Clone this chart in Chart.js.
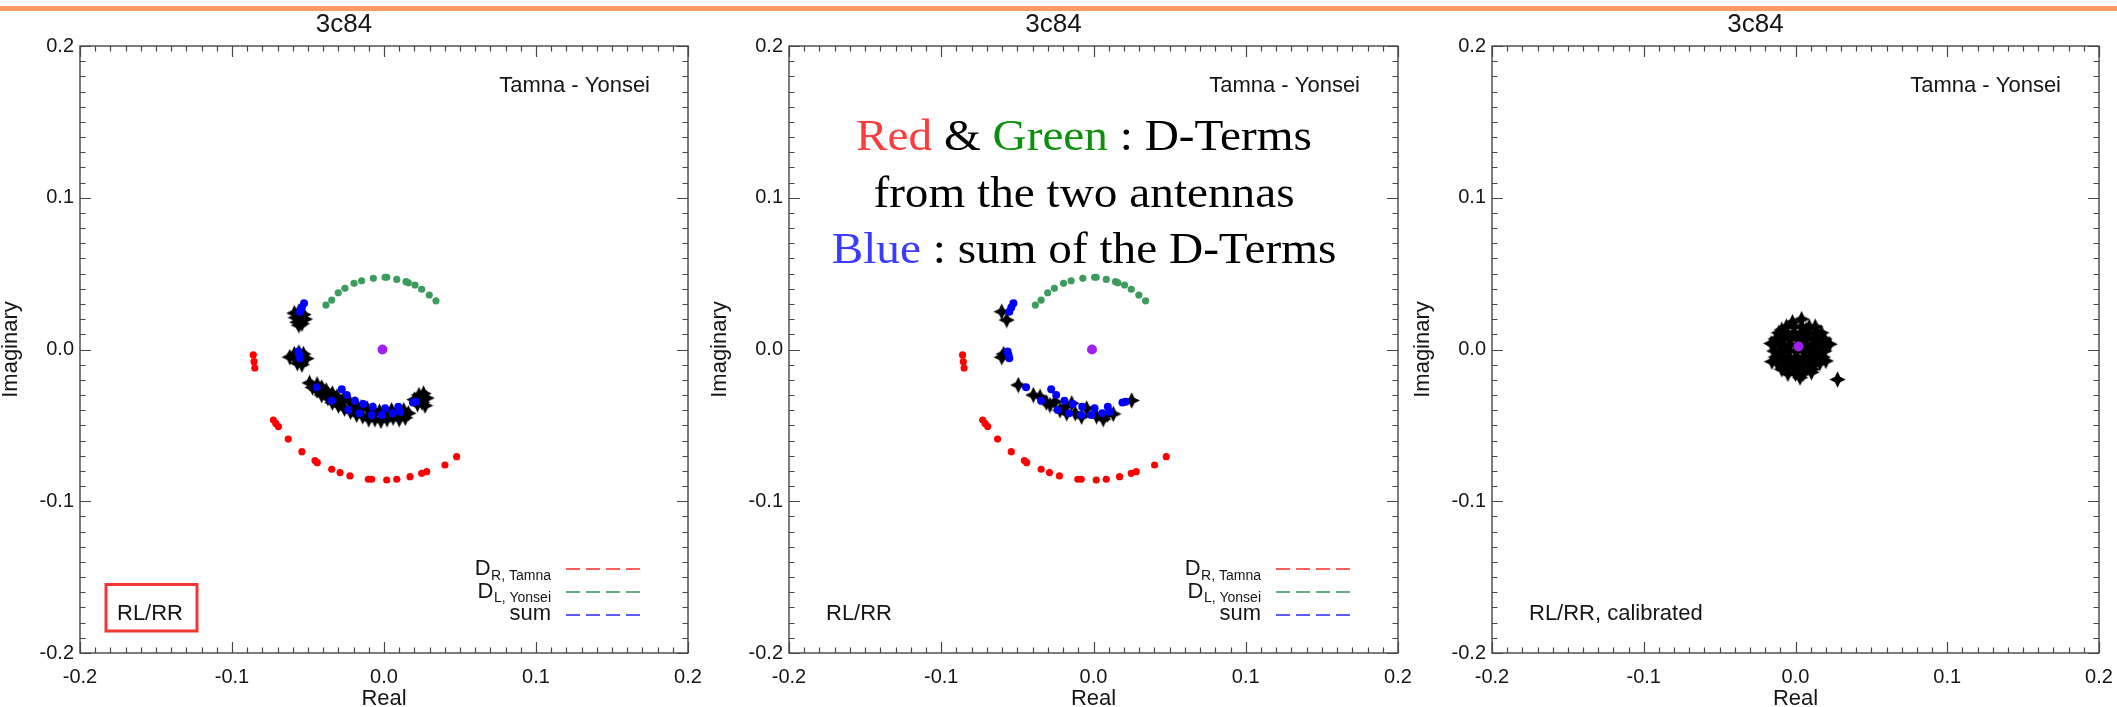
<!DOCTYPE html>
<html>
<head>
<meta charset="utf-8">
<title>3c84 D-term calibration, Tamna - Yonsei</title>
<script src="https://cdn.jsdelivr.net/npm/chart.js@4.4.1/dist/chart.umd.min.js"></script>
<style>
  html, body { margin: 0; padding: 0; background: #fff; }
  body { width: 2117px; height: 707px; overflow: hidden; position: relative; }
  #rule { position: absolute; left: 0; top: 6px; width: 2117px; height: 5px; background: #ff9a66; }
  canvas { position: absolute; top: 0; }
</style>
</head>
<body>
<div id="rule"></div>
<canvas id="p1"></canvas>
<canvas id="p2"></canvas>
<canvas id="p3"></canvas>
<script>
// ---- axis ticks (Real and Imaginary share the same range) ----
const AXIS_TICKS = [-0.2, -0.1, 0.0, 0.1, 0.2];

// ---- D-terms: [real, imaginary] ----
const D_R_TAMNA = [
  [-0.0860, -0.0036], [-0.0855, -0.0080], [-0.0850, -0.0122],
  [-0.0728, -0.0465], [-0.0712, -0.0487], [-0.0695, -0.0508],
  [-0.0630, -0.0590], [-0.0540, -0.0673],
  [-0.0454, -0.0732], [-0.0439, -0.0746],
  [-0.0344, -0.0789], [-0.0289, -0.0811], [-0.0224, -0.0833],
  [-0.0103, -0.0855], [-0.0081, -0.0855],
  [0.0018, -0.0860], [0.0084, -0.0855],
  [0.0171, -0.0838], [0.0248, -0.0816], [0.0281, -0.0805],
  [0.0401, -0.0761], [0.0478, -0.0706]
];
const D_L_YONSEI = [
  [-0.0382, 0.0293], [-0.0344, 0.0326], [-0.0301, 0.0374], [-0.0257, 0.0403],
  [-0.0197, 0.0436], [-0.0147, 0.0453], [-0.0070, 0.0469], [0.0007, 0.0476],
  [0.0018, 0.0476], [0.0084, 0.0462], [0.0145, 0.0447], [0.0160, 0.0440],
  [0.0204, 0.0425], [0.0248, 0.0397], [0.0298, 0.0359], [0.0342, 0.0321]
];
const D_SUM = [
  [-0.0526, 0.0304], [-0.0540, 0.0277], [-0.0553, 0.0249],
  [-0.0564, -0.0014], [-0.0558, -0.0036], [-0.0553, -0.0058],
  [-0.0443, -0.0249], [-0.0344, -0.0337], [-0.0278, -0.0262], [-0.0245, -0.0300],
  [-0.0235, -0.0399], [-0.0191, -0.0337], [-0.0162, -0.0420], [-0.0136, -0.0359],
  [-0.0074, -0.0377], [-0.0081, -0.0431], [-0.0015, -0.0431], [0.0007, -0.0387],
  [0.0057, -0.0420], [0.0094, -0.0377], [0.0105, -0.0410], [0.0211, -0.0344],
  [0.0190, -0.0350]
];
const ORIGIN_RAW = [[-0.001, 0.000]];
const ORIGIN_CAL = [[0.002, 0.002]];

// ---- RL/RR visibility ratios ----
const RLRR_RAW = [
  [-0.059, 0.024], [-0.056, 0.025], [-0.053, 0.023], [-0.058, 0.021], [-0.055, 0.020],
  [-0.052, 0.020], [-0.057, 0.018], [-0.054, 0.017], [-0.056, 0.016],
  [-0.062, -0.005], [-0.059, -0.003], [-0.056, -0.002], [-0.053, -0.003], [-0.051, -0.006],
  [-0.058, -0.006], [-0.055, -0.007], [-0.057, -0.009], [-0.054, -0.010],
  [-0.049, -0.022], [-0.047, -0.025], [-0.044, -0.023], [-0.044, -0.027], [-0.041, -0.025],
  [-0.041, -0.030], [-0.038, -0.027], [-0.037, -0.032], [-0.034, -0.029], [-0.034, -0.035],
  [-0.031, -0.031], [-0.030, -0.037], [-0.027, -0.033], [-0.026, -0.039], [-0.023, -0.034],
  [-0.022, -0.041], [-0.019, -0.036], [-0.018, -0.043], [-0.015, -0.038], [-0.014, -0.044],
  [-0.011, -0.039], [-0.010, -0.046], [-0.007, -0.040], [-0.006, -0.046], [-0.003, -0.041],
  [-0.002, -0.047], [0.001, -0.042], [0.002, -0.046], [0.005, -0.040], [0.006, -0.045],
  [0.009, -0.041], [0.010, -0.046], [0.013, -0.040], [0.014, -0.045], [0.016, -0.042],
  [-0.030, -0.034], [-0.020, -0.039], [-0.008, -0.043], [0.004, -0.043],
  [0.020, -0.033], [0.023, -0.030], [0.026, -0.029], [0.028, -0.032], [0.022, -0.036],
  [0.025, -0.035], [0.027, -0.037]
];
const RLRR_AVG = [
  [-0.0603, 0.0249], [-0.0570, 0.0194], [-0.0603, -0.0051], [-0.0590, -0.0030],
  [-0.0494, -0.0234], [-0.0395, -0.0300], [-0.0351, -0.0311], [-0.0310, -0.0350],
  [-0.0286, -0.0366], [-0.0253, -0.0344], [-0.0220, -0.0400], [-0.0187, -0.0377],
  [-0.0176, -0.0420], [-0.0143, -0.0355], [-0.0120, -0.0420], [-0.0078, -0.0443],
  [-0.0045, -0.0388], [0.0020, -0.0440], [0.0064, -0.0459], [0.0090, -0.0430],
  [0.0130, -0.0425], [0.0251, -0.0336]
];
const RLRR_CAL = [
  [-0.006, 0.015], [-0.001, 0.015], [0.004, 0.015], [0.009, 0.015], [0.013, 0.015],
  [-0.011, 0.011], [-0.006, 0.011], [-0.001, 0.011], [0.004, 0.011], [0.009, 0.011], [0.014, 0.011], [0.017, 0.011],
  [-0.013, 0.007], [-0.008, 0.007], [-0.003, 0.007], [0.002, 0.007], [0.007, 0.007], [0.012, 0.007], [0.016, 0.007], [0.019, 0.007],
  [-0.014, 0.003], [-0.009, 0.003], [-0.004, 0.003], [0.001, 0.003], [0.006, 0.003], [0.011, 0.003], [0.016, 0.003], [0.020, 0.003],
  [-0.014, -0.001], [-0.010, -0.001], [-0.005, -0.001], [0.000, -0.001], [0.005, -0.001], [0.010, -0.001], [0.015, -0.001], [0.019, -0.001],
  [-0.013, -0.005], [-0.009, -0.005], [-0.004, -0.005], [0.001, -0.005], [0.006, -0.005], [0.011, -0.005], [0.016, -0.005], [0.018, -0.005],
  [-0.012, -0.009], [-0.007, -0.009], [-0.002, -0.009], [0.003, -0.009], [0.008, -0.009], [0.013, -0.009], [0.016, -0.009],
  [-0.009, -0.013], [-0.004, -0.013], [0.001, -0.013], [0.006, -0.013], [0.011, -0.013],
  [-0.005, -0.016], [0.000, -0.016], [0.005, -0.016],
  [0.004, 0.020], [-0.002, 0.018], [0.0277, -0.0198], [-0.0155, -0.008], [0.003, -0.0185],
  [0.0105, -0.0150], [0.020, -0.0075], [0.0225, 0.0035], [-0.016, 0.004],
  [-0.009, 0.013], [0.007, 0.013], [-0.011, 0.005], [0.014, 0.005], [-0.007, 0.001],
  [0.008, 0.001], [-0.011, -0.003], [0.013, -0.003], [-0.005, -0.007], [0.009, -0.007],
  [-0.002, -0.011], [0.009, -0.011], [0.004, 0.009], [-0.005, 0.009]
];

// ---- drawing setup ----
const SANS = '"Liberation Sans", Arial, Helvetica, sans-serif';
const SERIF = '"Liberation Serif", "Times New Roman", serif';
const INK = '#161616';

// four-pointed filled star used for the visibility ratios
function makeStar(size) {
  const c = document.createElement('canvas');
  c.width = c.height = size;
  const g = c.getContext('2d');
  const m = size / 2, R = size / 2 - 0.3, r = size * 0.22;
  g.beginPath();
  for (let k = 0; k < 8; k++) {
    const ang = k * Math.PI / 4 - Math.PI / 2;
    const rad = k % 2 === 0 ? R : r;
    const px = m + rad * Math.cos(ang), py = m + rad * Math.sin(ang);
    if (k === 0) g.moveTo(px, py); else g.lineTo(px, py);
  }
  g.closePath();
  g.fillStyle = '#000';
  g.fill();
  return c;
}
const STAR = makeStar(17);

const pts = arr => arr.map(([x, y]) => ({ x, y }));
const fmt = v => (Math.abs(v) < 1e-9 ? 0 : v).toFixed(1);

// box with inward major/minor ticks on all four sides
const frame = {
  id: 'frame',
  afterDraw(chart) {
    const { ctx, chartArea: a, scales: { x, y } } = chart;
    ctx.save();
    ctx.strokeStyle = '#474747';
    ctx.lineWidth = 1.4;
    ctx.strokeRect(a.left, a.top, a.right - a.left, a.bottom - a.top);
    ctx.lineWidth = 1.2;
    ctx.beginPath();
    for (let i = -20; i <= 20; i++) {
      const v = i / 100;
      const len = i % 10 === 0 ? 11 : 5.5;
      const px = Math.round(x.getPixelForValue(v)) + 0.5;
      const py = Math.round(y.getPixelForValue(v)) + 0.5;
      ctx.moveTo(px, a.bottom); ctx.lineTo(px, a.bottom - len);
      ctx.moveTo(px, a.top); ctx.lineTo(px, a.top + len);
      ctx.moveTo(a.left, py); ctx.lineTo(a.left + len, py);
      ctx.moveTo(a.right, py); ctx.lineTo(a.right - len, py);
    }
    ctx.stroke();
    ctx.restore();
  }
};

// in-panel labels, legend and the explanatory caption
const notes = {
  id: 'notes',
  afterDraw(chart, args, o) {
    const { ctx, chartArea: a } = chart;
    ctx.save();
    ctx.fillStyle = INK;
    ctx.textBaseline = 'alphabetic';
    ctx.font = `22px ${SANS}`;
    ctx.textAlign = 'right';
    ctx.fillText('Tamna - Yonsei', a.right - 38, a.top + 46);
    ctx.textAlign = 'left';
    ctx.fillText(o.label, a.left + 37, a.bottom - 33);

    if (o.boxed) {
      ctx.strokeStyle = '#f23636';
      ctx.lineWidth = 3;
      ctx.strokeRect(a.left + 26, a.bottom - 68.5, 91, 46.5);
    }

    if (o.legend) {
      const rows = [
        { main: 'D', sub: 'R, Tamna', color: '#ff5c5c', base: 78, subBase: 73, line: 84 },
        { main: 'D', sub: 'L, Yonsei', color: '#5fb27f', base: 55, subBase: 51, line: 61 },
        { main: 'sum', sub: '', color: '#5c5cff', base: 33, subBase: 33, line: 38 }
      ];
      const textRight = a.right - 137;
      rows.forEach(r => {
        ctx.fillStyle = INK;
        ctx.textAlign = 'right';
        let xr = textRight;
        if (r.sub) {
          ctx.font = `14px ${SANS}`;
          ctx.fillText(r.sub, xr, a.bottom - r.subBase);
          xr -= ctx.measureText(r.sub).width + 0.5;
        }
        ctx.font = `22px ${SANS}`;
        ctx.fillText(r.main, xr, a.bottom - r.base);
        ctx.strokeStyle = r.color;
        ctx.lineWidth = 2;
        ctx.setLineDash([14, 6]);
        ctx.beginPath();
        ctx.moveTo(a.right - 122, a.bottom - r.line);
        ctx.lineTo(a.right - 48, a.bottom - r.line);
        ctx.stroke();
        ctx.setLineDash([]);
      });
    }

    if (o.caption) {
      const lines = [
        [['Red', '#ff3b3b'], [' & ', '#000'], ['Green', '#0a900a'], [' : D-Terms', '#000']],
        [['from the two antennas', '#000']],
        [['Blue', '#3b3bff'], [' : sum of the D-Terms', '#000']]
      ];
      const baselines = [104, 161, 217];
      const sx = 1.05;
      const cx = a.left + 295;
      ctx.font = `45px ${SERIF}`;
      ctx.textAlign = 'left';
      lines.forEach((segs, i) => {
        const w = segs.reduce((s, [t]) => s + ctx.measureText(t).width, 0);
        ctx.save();
        ctx.translate(cx, a.top + baselines[i]);
        ctx.scale(sx, 1);
        let xx = -w / 2;
        segs.forEach(([t, c]) => {
          ctx.fillStyle = c;
          ctx.fillText(t, xx, 0);
          xx += ctx.measureText(t).width;
        });
        ctx.restore();
      });
    }
    ctx.restore();
  }
};

const PANELS = [
  { id: 'p1', left: 80, width: 608, stars: RLRR_RAW, dterms: true, origin: ORIGIN_RAW,
    label: 'RL/RR', boxed: true, legend: true, caption: false },
  { id: 'p2', left: 789, width: 609, stars: RLRR_AVG, dterms: true, origin: ORIGIN_RAW,
    label: 'RL/RR', boxed: false, legend: true, caption: true },
  { id: 'p3', left: 1492, width: 607, stars: RLRR_CAL, dterms: false, origin: ORIGIN_CAL,
    label: 'RL/RR, calibrated', boxed: false, legend: false, caption: false }
];

const AXIS_W = 80, RIGHT_PAD = 20, CANVAS_H = 720, X_AXIS_H = 67;

PANELS.forEach(p => {
  const cv = document.getElementById(p.id);
  const w = AXIS_W + p.width + RIGHT_PAD;
  cv.width = w; cv.height = CANVAS_H;
  cv.style.left = (p.left - AXIS_W) + 'px';
  cv.style.width = w + 'px'; cv.style.height = CANVAS_H + 'px';

  const datasets = [
    { label: 'origin', data: pts(p.origin), backgroundColor: '#a020f0', pointRadius: 5, borderWidth: 0 }
  ];
  if (p.dterms) {
    datasets.push(
      { label: 'sum', data: pts(D_SUM), backgroundColor: '#0000ff', pointRadius: 4, borderWidth: 0 },
      { label: 'D_R, Tamna', data: pts(D_R_TAMNA), backgroundColor: '#ff0000', pointRadius: 3.6, borderWidth: 0 },
      { label: 'D_L, Yonsei', data: pts(D_L_YONSEI), backgroundColor: '#3c9c5c', pointRadius: 3.6, borderWidth: 0 }
    );
  }
  datasets.push({ label: p.label, data: pts(p.stars), pointStyle: STAR, pointRadius: 8, borderWidth: 0, backgroundColor: '#000' });

  const tickFont = { family: SANS, size: 20 };
  new Chart(cv, {
    type: 'scatter',
    data: { datasets },
    options: {
      responsive: false,
      animation: false,
      events: [],
      layout: { padding: { left: 0, right: RIGHT_PAD, top: 0, bottom: 0 } },
      plugins: {
        legend: { display: false },
        tooltip: { enabled: false },
        title: {
          display: true, text: '3c84', color: INK,
          font: { family: SANS, size: 26, weight: 'normal', lineHeight: 1 },
          padding: { top: 12, bottom: 8 }
        },
        notes: { label: p.label, boxed: p.boxed, legend: p.legend, caption: p.caption }
      },
      scales: {
        x: {
          type: 'linear', min: -0.2, max: 0.2,
          afterBuildTicks: s => { s.ticks = AXIS_TICKS.map(v => ({ value: v })); },
          afterFit: s => { s.height = X_AXIS_H; s.paddingLeft = 0; s.paddingRight = 0; },
          grid: { display: false, drawTicks: false },
          border: { display: false },
          ticks: { padding: 12, color: INK, font: tickFont, maxRotation: 0, autoSkip: false, callback: fmt },
          title: { display: true, text: 'Real', color: INK, font: { family: SANS, size: 22, lineHeight: 1 }, padding: { top: 0, bottom: 10 } }
        },
        y: {
          type: 'linear', min: -0.2, max: 0.2,
          afterBuildTicks: s => { s.ticks = AXIS_TICKS.map(v => ({ value: v })); },
          afterFit: s => { s.width = AXIS_W; s.paddingTop = 0; s.paddingBottom = 0; },
          grid: { display: false, drawTicks: false },
          border: { display: false },
          ticks: { padding: 6, color: INK, font: tickFont, autoSkip: false, callback: fmt },
          title: { display: true, text: 'Imaginary', color: INK, font: { family: SANS, size: 22, lineHeight: 1 }, padding: { top: 0, bottom: 0 } }
        }
      }
    },
    plugins: [frame, notes]
  });
});
</script>
</body>
</html>
